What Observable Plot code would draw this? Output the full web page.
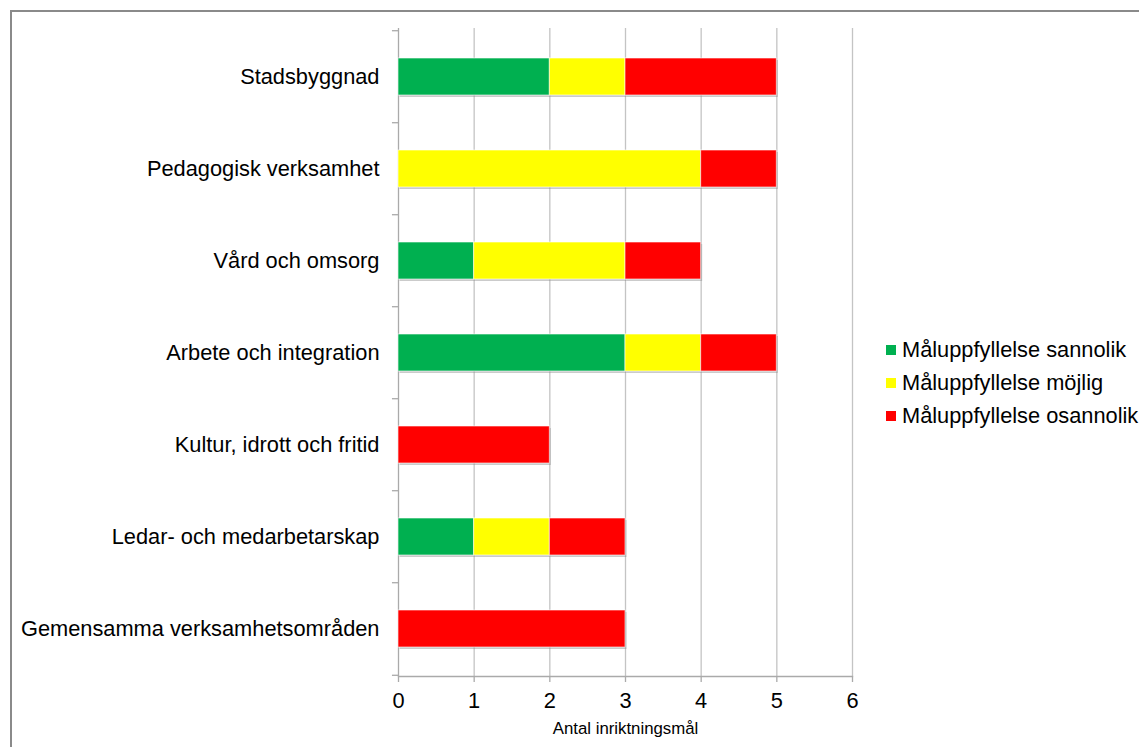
<!DOCTYPE html>
<html>
<head>
<meta charset="utf-8">
<script src="https://cdn.jsdelivr.net/npm/d3@7"></script>
<script src="https://cdn.jsdelivr.net/npm/@observablehq/plot@0.6"></script>
<style>
  html, body { margin: 0; padding: 0; background: #fff; }
  #wrap { position: relative; width: 1139px; height: 747px; overflow: hidden; font-family: "Liberation Sans", Arial, sans-serif; }
  #border { position: absolute; left: 10px; top: 10px; width: 1200px; height: 800px; border-top: 2px solid #8a8a8a; border-left: 2px solid #8a8a8a; box-sizing: border-box; }
  #legend { position: absolute; left: 886px; top: 333px; font-size: 21.8px; color: #000; }
  .li { display: flex; align-items: center; height: 33px; }
  .sw { width: 10px; height: 10px; margin-right: 6px; }
  svg { position: absolute; left: 0; top: 0; }
</style>
</head>
<body>
<div id="wrap"><div id="border"></div></div>
<script>
const categories = [
  "Stadsbyggnad",
  "Pedagogisk verksamhet",
  "Vård och omsorg",
  "Arbete och integration",
  "Kultur, idrott och fritid",
  "Ledar- och medarbetarskap",
  "Gemensamma verksamhetsområden"
];
const seriesNames = ["Måluppfyllelse sannolik", "Måluppfyllelse möjlig", "Måluppfyllelse osannolik"];
const seriesColors = ["#00b050", "#ffff00", "#ff0000"];
const sannolik   = [2, 0, 1, 3, 0, 1, 0];
const mojlig     = [1, 4, 2, 1, 0, 1, 0];
const osannolik  = [2, 1, 1, 1, 2, 1, 3];
const xTicks = [0, 1, 2, 3, 4, 5, 6];
const xLabel = "Antal inriktningsmål";

const valuesBySeries = [sannolik, mojlig, osannolik];
const data = [];
categories.forEach((c, i) => {
  seriesNames.forEach((s, j) => {
    data.push({category: c, series: s, value: valuesBySeries[j][i]});
  });
});

const H = 747, mTop = 28, mBottom = 71;
const step = (H - mTop - mBottom) / categories.length;

const chart = Plot.plot({
  width: 1139,
  height: H,
  marginLeft: 398,
  marginRight: 287,
  marginTop: mTop,
  marginBottom: mBottom,
  style: {fontFamily: "'Liberation Sans', Arial, sans-serif", fontSize: "21.8px", color: "#000", background: "transparent", overflow: "visible"},
  x: {domain: [0, 6]},
  y: {domain: categories, paddingInner: 0.6, paddingOuter: 0.3},
  color: {domain: seriesNames, range: seriesColors},
  marks: [
    Plot.ruleX(xTicks.slice(1), {stroke: "#c4c4c4", strokeWidth: 1.3}),
    Plot.ruleX([0], {stroke: "#aaaaaa", strokeWidth: 1.3}),
    Plot.frame({anchor: "bottom", stroke: "#aaaaaa", strokeWidth: 1.3}),
    Plot.ruleY(categories, {y: d => d, x1: -0.08, x2: 0, dy: -step / 2, stroke: "#aaaaaa", strokeWidth: 1.3}),
    Plot.ruleY(categories.slice(-1), {y: d => d, x1: -0.08, x2: 0, dy: step / 2, stroke: "#aaaaaa", strokeWidth: 1.3}),
    Plot.barX(data, {x: "value", y: "category", fill: "#8c8c8c", fillOpacity: 0.45, dx: 1.5, dy: 2}),
    Plot.barX(data, {x: "value", y: "category", fill: "series", stroke: "#ffffff", strokeOpacity: 0.6, strokeWidth: 1}),
    Plot.axisX({ticks: xTicks, tickSize: 6, tickFormat: () => "", stroke: "#aaaaaa", strokeWidth: 1.3, label: null}),
    Plot.axisX({ticks: xTicks, tickSize: 0, tickPadding: 16, tickFormat: d3.format("d"), fontSize: 21.8, label: null}),
    Plot.axisY({tickSize: 0, tickPadding: 19, label: null}),
    Plot.text([xLabel], {frameAnchor: "bottom", dy: 52, lineAnchor: "middle", fontSize: 16.8, fill: "#000"})
  ]
});

const wrap = document.getElementById("wrap");
wrap.appendChild(chart);

const legend = document.createElement("div");
legend.id = "legend";
seriesNames.forEach((s, i) => {
  const row = document.createElement("div");
  row.className = "li";
  const sw = document.createElement("div");
  sw.className = "sw";
  sw.style.background = seriesColors[i];
  const t = document.createElement("span");
  t.textContent = s;
  row.appendChild(sw);
  row.appendChild(t);
  legend.appendChild(row);
});
wrap.appendChild(legend);
</script>
</body>
</html>
